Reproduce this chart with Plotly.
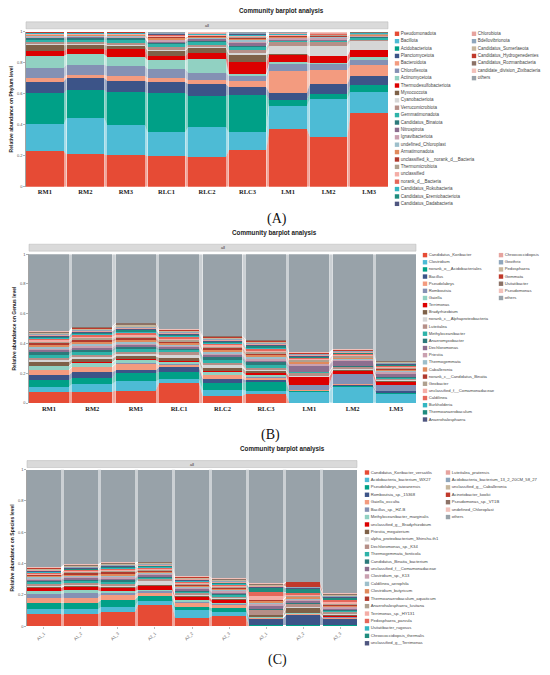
import plotly.graph_objects as go

W, H = 550, 675

# ---------------- data ----------------
A_samples = ["RM1", "RM2", "RM3", "RLC1", "RLC2", "RLC3", "LM1", "LM2", "LM3"]
B_samples = ["RM1", "RM2", "RM3", "RLC1", "RLC2", "RLC3", "LM1", "LM2", "LM3"]
C_samples = ["A1_1", "A1_2", "A1_3", "A2_1", "A2_2", "A2_3", "A3_1", "A3_2", "A3_3"]

A_taxa = ["Pseudomonadota", "Bacillota", "Acidobacteriota", "Planctomycetota", "Bacteroidota",
          "Chloroflexota", "Actinomycetota", "Thermodesulfobacteriota", "Myxococcota", "Cyanobacteriota",
          "Verrucomicrobiota", "Gemmatimonadota", "Candidatus_Binatota", "Nitrospirota", "Ignavibacteriota",
          "undefined_Chloroplast", "Armatimonadota", "unclassified_k__norank_d__Bacteria", "Thermomicrobiota",
          "unclassified", "norank_d__Bacteria", "Candidatus_Rokubacteria", "Candidatus_Eremiobacteriota",
          "Candidatus_Dadabacteria", "Chlorobiota", "Bdellovibrionota", "Candidatus_Sumerlaeota",
          "Candidatus_Hydrogenedentes", "Candidatus_Rozmanbacteria", "candidate_division_Zixibacteria", "others"]

A_vals = [
    [.229, .209, .203, .203, .192, .239, .378, .325, .481],
    [.175, .238, .197, .154, .197, .118, .150, .246, .139],
    [.201, .179, .209, .256, .203, .248, .038, .034, .042],
    [.075, .079, .075, .071, .075, .051, .047, .062, .058],
    [.026, .021, .032, .028, .023, .043, .139, .092, .075],
    [.064, .065, .064, .057, .051, .030, .049, .042, .034],
    [.075, .068, .060, .060, .088, .015, .010, .005, .019],
    [.032, .032, .047, .026, .041, .075, .050, .042, .043],
    [.038, .028, .025, .032, .032, .050, .005, .005, .005],
    [.006, .006, .006, .008, .007, .015, .050, .066, .055],
    [.012, .012, .013, .018, .014, .020, .025, .024, .010],
    [.018, .016, .018, .020, .017, .015, .006, .006, .010],
    [.008, .008, .009, .010, .009, .010, .003, .003, .004],
    [.006, .006, .006, .008, .007, .015, .006, .006, .004],
    [.005, .005, .005, .008, .006, .012, .012, .010, .003],
    [.004, .004, .004, .005, .005, .010, .004, .004, .004],
    [.004, .004, .004, .012, .006, .008, .006, .006, .005],
    [.003, .003, .003, .004, .004, .006, .003, .003, .003],
    [.003, .003, .003, .004, .004, .006, .004, .004, .002],
    [.003, .003, .003, .004, .003, .005, .004, .004, .002],
    [.002, .002, .002, .003, .003, .004, .003, .003, .002],
    [.002, .002, .002, .003, .003, .004, .002, .002, .001],
    [.002, .002, .002, .003, .002, .003, .002, .002, .001],
    [.001, .001, .001, .002, .002, .003, .001, .001, .001],
    [.001, .001, .001, .003, .002, .003, .002, .002, .001],
    [.001, .001, .001, .002, .002, .002, .002, .002, .001],
    [.001, .001, .001, .002, .001, .002, .001, .001, .001],
    [.001, .001, .001, .002, .001, .002, .001, .001, .001],
    [.001, .001, .001, .001, .001, .001, .001, .001, .001],
    [.001, .001, .001, .001, .001, .001, .001, .001, .001],
    [.002, .002, .002, .005, .004, .005, .005, .004, .003],
]

B_taxa = ["Candidatus_Koribacter", "Clostridium", "norank_o__Acidobacteriales", "Bacillus", "Pseudolabrys",
          "Romboutsia", "Gaiella", "Terrimonas", "Bradyrhizobium", "norank_c__Alphaproteobacteria",
          "Luteitalea", "Methyloceanibacter", "Anaeromyxobacter", "Dechloromonas", "Priestia",
          "Thermogemmata", "Caballeronia", "norank_c__Candidatus_Binatia", "Geobacter",
          "unclassified_f__Comamonadaceae", "Caldilinea", "Burkholderia", "Thermoanaerobaculum",
          "Anaerohalosphaera", "Chroococcidiopsis", "Geothrix", "Pedosphaera", "Gemmata",
          "Usitatibacter", "Pseudomonas", "others"]

B_vals = [
    [.076, .076, .084, .136, .049, .062, .003, .002, .002],
    [.033, .055, .063, .024, .042, .020, .073, .107, .060],
    [.044, .038, .055, .049, .047, .056, .003, .003, .004],
    [.034, .040, .018, .033, .026, .015, .004, .011, .012],
    [.033, .033, .044, .016, .023, .016, .004, .004, .004],
    [.005, .005, .005, .004, .006, .006, .033, .067, .035],
    [.022, .024, .020, .018, .018, .012, .003, .003, .004],
    [.005, .005, .006, .004, .006, .015, .050, .022, .020],
    [.025, .024, .020, .022, .020, .010, .004, .004, .004],
    [.015, .015, .015, .022, .018, .012, .004, .004, .006],
    [.015, .014, .016, .014, .018, .014, .020, .015, .010],
    [.020, .018, .018, .014, .020, .018, .004, .004, .006],
    [.016, .015, .016, .012, .018, .016, .004, .006, .006],
    [.012, .012, .012, .009, .012, .012, .040, .030, .020],
    [.012, .012, .010, .009, .012, .012, .010, .012, .010],
    [.012, .015, .010, .009, .012, .012, .004, .004, .006],
    [.015, .014, .012, .010, .013, .013, .010, .008, .008],
    [.010, .012, .012, .010, .010, .010, .002, .002, .004],
    [.010, .012, .012, .010, .010, .010, .010, .008, .006],
    [.010, .010, .012, .010, .010, .010, .010, .008, .008],
    [.008, .010, .012, .010, .010, .010, .006, .006, .006],
    [.008, .010, .010, .010, .008, .010, .004, .004, .004],
    [.008, .008, .010, .008, .008, .008, .003, .003, .004],
    [.006, .008, .008, .006, .006, .008, .004, .004, .004],
    [.004, .006, .008, .006, .006, .008, .010, .006, .006],
    [.006, .006, .008, .006, .006, .006, .004, .004, .004],
    [.006, .006, .008, .006, .006, .008, .004, .004, .004],
    [.005, .005, .006, .004, .005, .005, .003, .003, .003],
    [.006, .007, .008, .006, .006, .006, .003, .004, .004],
    [.004, .004, .006, .004, .004, .005, .004, .004, .004],
    [.520, .491, .462, .507, .553, .573, .658, .642, .700],
]

C_taxa = ["Candidatus_Koribacter_versatilis", "Acidobacteria_bacterium_WX27", "Pseudolabrys_taiwanensis",
          "Romboutsia_sp._15368", "Gaiella_occulta", "Bacillus_sp._HZ-B", "Methyloceanibacter_marginalis",
          "unclassified_g__Bradyrhizobium", "Priestia_megaterium", "alpha_proteobacterium_Shinshu-th1",
          "Dechloromonas_sp._K34", "Thermogemmata_fonticola", "Candidatus_Binatia_bacterium",
          "unclassified_f__Comamonadaceae", "Clostridium_sp._K13", "Caldilinea_aerophila",
          "Clostridium_butyricum", "Thermoanaerobaculum_aquaticum", "Anaerohalosphaera_lusitana",
          "Terrimonas_sp._HY131", "Pedosphaera_parvula", "Usitatibacter_rugosus",
          "Chroococcidiopsis_thermalis", "unclassified_g__Terrimonas", "Luteitalea_pratensis",
          "Acidobacteria_bacterium_13_2_20CM_58_27", "unclassified_g__Caballeronia", "Acinetobacter_kookii",
          "Pseudomonas_sp._VT1B", "undefined_Chloroplast", "others"]

C_vals = [
    [.078, .078, .089, .135, .055, .065, .002, .002, .002],
    [.036, .030, .035, .025, .048, .028, .003, .003, .003],
    [.036, .042, .043, .028, .017, .021, .003, .003, .004],
    [.002, .002, .002, .002, .002, .002, .040, .065, .040],
    [.031, .031, .031, .021, .026, .017, .004, .004, .004],
    [.028, .028, .010, .010, .008, .008, .004, .004, .004],
    [.015, .021, .012, .010, .010, .008, .003, .003, .004],
    [.021, .021, .021, .022, .018, .015, .003, .003, .004],
    [.005, .005, .006, .006, .006, .006, .008, .032, .008],
    [.010, .010, .010, .027, .010, .008, .004, .004, .006],
    [.010, .010, .010, .008, .008, .008, .030, .020, .015],
    [.012, .012, .014, .010, .010, .010, .003, .003, .004],
    [.008, .010, .010, .008, .008, .008, .003, .004, .004],
    [.008, .008, .010, .008, .008, .008, .020, .012, .010],
    [.008, .008, .010, .008, .008, .008, .015, .010, .008],
    [.008, .008, .010, .008, .008, .008, .004, .004, .004],
    [.006, .008, .010, .006, .006, .008, .012, .010, .008],
    [.006, .008, .010, .008, .006, .006, .004, .004, .004],
    [.005, .006, .008, .006, .006, .006, .006, .004, .006],
    [.005, .006, .008, .006, .006, .006, .020, .010, .012],
    [.006, .006, .006, .006, .006, .006, .025, .010, .010],
    [.004, .005, .006, .004, .004, .006, .004, .004, .004],
    [.004, .004, .006, .004, .004, .004, .025, .020, .010],
    [.004, .004, .004, .004, .004, .004, .008, .006, .006],
    [.006, .006, .006, .006, .006, .006, .004, .004, .004],
    [.004, .004, .004, .004, .004, .004, .003, .003, .004],
    [.006, .006, .006, .006, .006, .006, .004, .004, .006],
    [.002, .002, .002, .002, .002, .002, .002, .030, .002],
    [.004, .004, .004, .004, .004, .004, .004, .002, .004],
    [.004, .004, .004, .004, .004, .006, .004, .002, .008],
    [.629, .608, .591, .578, .673, .684, .726, .722, .783],
]

colors = ["#E64B35", "#4DBBD5", "#00A087", "#3C5488", "#F39B7F", "#8491B4", "#91D1C2", "#DC0000",
          "#7E6148", "#D6D6D6", "#B58F88", "#2EB3A9", "#2C7A7B", "#8D6E8F", "#C9A0B0", "#9DBFCB",
          "#E08A5C", "#B03A2E", "#AFA08F", "#F4ADA6", "#E5675A", "#32B6C2", "#1F8C7E", "#4F5680",
          "#E6A39E", "#8FA6BC", "#C6B69C", "#C0392B", "#8C7266", "#F2C1BA", "#98A2A9"]

# ---------------- helpers ----------------
def norm(vals):
    n = len(vals[0])
    tot = [sum(r[i] for r in vals) for i in range(n)]
    return [[r[i] / tot[i] for i in range(n)] for r in vals]


def rgba(h, a):
    h = h.lstrip("#")
    return "rgba(%d,%d,%d,%.2f)" % (int(h[0:2], 16), int(h[2:4], 16), int(h[4:6], 16), a)


def fx(px):
    return px / W


def fy(py):
    return 1 - py / H


panels = [
    dict(samples=A_samples, taxa=A_taxa, vals=A_vals, ylab="Relative abundance on Phylum level",
         x0=26, x1=388, yt=29, yb=185, st=(19, 26), ty=8, tx=281, lab="(A)", lx=277, ly=218,
         gx=397, g2=474, gy=31, gdy=7.45, gfs=4.5, w=0.93, serif=True),
    dict(samples=B_samples, taxa=B_taxa, vals=B_vals, ylab="Relative abundance on Genus level",
         x0=29, x1=416, yt=253, yb=403, st=(243, 250), ty=232, tx=274, lab="(B)", lx=270, ly=435,
         gx=425, g2=501, gy=254, gdy=7.2, gfs=4.2, w=0.92, serif=True),
    dict(samples=C_samples, taxa=C_taxa, vals=C_vals, ylab="Relative abundance on Species level",
         x0=27, x1=357, yt=470, yb=628, st=(461, 468), ty=449, tx=282, lab="(C)", lx=277, ly=662,
         gx=367, g2=448, gy=473, gdy=7.48, gfs=4.2, w=0.91, serif=False),
]

fig = go.Figure()
shapes, annotations = [], []
layout_axes = {}

for k, p in enumerate(panels):
    sfx = "" if k == 0 else str(k + 1)
    xa, ya = "x" + sfx, "y" + sfx
    n = len(p["samples"])
    xs = list(range(n))
    w = p["w"]
    nv = norm(p["vals"])
    base = [0.0] * n
    for j, row in enumerate(nv):
        top = [base[i] + row[i] for i in range(n)]
        fig.add_trace(go.Bar(x=xs, y=row, width=w, marker=dict(color=colors[j], line=dict(width=0)),
                             xaxis=xa, yaxis=ya, showlegend=False, name=p["taxa"][j]))
        bx, by = [], []
        for i in range(n - 1):
            xr, xl = i + w / 2, i + 1 - w / 2
            bx += [xr, xl, xl, xr, xr, None]
            by += [base[i], base[i + 1], top[i + 1], top[i], base[i], None]
        fig.add_trace(go.Scatter(x=bx, y=by, mode="lines", fill="toself", line=dict(width=0),
                                 fillcolor=rgba(colors[j], 0.5), hoverinfo="skip",
                                 xaxis=xa, yaxis=ya, showlegend=False))
        base = top

    # axes
    xkw = dict(domain=[fx(p["x0"]), fx(p["x1"])], range=[-w / 2, n - 1 + w / 2], anchor=ya,
               tickvals=xs, ticktext=p["samples"], showgrid=False, zeroline=False, showline=False)
    if p["serif"]:
        xkw.update(ticks="", tickfont=dict(family="Liberation Serif", size=6.5, color="#222", weight="bold"))
    else:
        xkw.update(ticks="outside", ticklen=2, tickwidth=0.5, tickcolor="#777", tickangle=-45,
                   tickfont=dict(family="Liberation Sans", size=4.2, color="#666"))
    layout_axes["xaxis" + sfx] = xkw
    layout_axes["yaxis" + sfx] = dict(
        domain=[fy(p["yb"]), fy(p["yt"])], range=[0, 1], anchor=xa,
        tickvals=[0, 0.2, 0.4, 0.6, 0.8, 1], ticktext=["0", "0.2", "0.4", "0.6", "0.8", "1"],
        tickfont=dict(family="Liberation Sans", size=4, color="#555"),
        ticks="outside", ticklen=2, tickwidth=0.5, tickcolor="#666",
        showline=True, linecolor="#666", linewidth=0.6, showgrid=False, zeroline=False,
        title=dict(text=p["ylab"], font=dict(family="Liberation Sans", size=5, color="#222", weight="bold"),
                   standoff=3))

    # legend built as a scatter on its own hidden axes
    lk = str(k + 4)
    hl = 8 + 24 * p["gdy"]
    wl = W - p["gx"] + 3
    mx, my = [], []
    for j in range(len(p["taxa"])):
        c = 0 if j < 24 else 1
        r = j if j < 24 else j - 24
        mx.append(3 + c * (p["g2"] - p["gx"]))
        my.append(4 + r * p["gdy"])
    fig.add_trace(go.Scatter(x=mx, y=my, mode="markers+text", text=p["taxa"], textposition="middle right",
                             textfont=dict(family="Liberation Sans", size=p["gfs"], color="#444"),
                             marker=dict(symbol="square", size=4.4, color=colors[:len(p["taxa"])],
                                         line=dict(width=0)),
                             cliponaxis=False, hoverinfo="skip", showlegend=False,
                             xaxis="x" + lk, yaxis="y" + lk))
    layout_axes["xaxis" + lk] = dict(domain=[fx(p["gx"] - 3), 1], range=[0, wl], visible=False,
                                     anchor="y" + lk)
    layout_axes["yaxis" + lk] = dict(domain=[fy(p["gy"] - 4 + hl), fy(p["gy"] - 4)], range=[hl, 0],
                                     visible=False, anchor="x" + lk)

    # strip "all"
    shapes.append(dict(type="rect", xref="paper", yref="paper", x0=fx(p["x0"]), x1=fx(p["x1"]),
                       y0=fy(p["st"][1]), y1=fy(p["st"][0]), fillcolor="#DADADA",
                       line=dict(color="#B5B5B5", width=0.5), layer="below"))
    annotations.append(dict(text="all", xref="paper", yref="paper", x=fx((p["x0"] + p["x1"]) / 2),
                            y=fy((p["st"][0] + p["st"][1]) / 2), showarrow=False,
                            xanchor="center", yanchor="middle",
                            font=dict(family="Liberation Sans", size=4, color="#333")))
    # title
    annotations.append(dict(text="<b>Community barplot analysis</b>", xref="paper", yref="paper",
                            x=fx(p["tx"]), y=fy(p["ty"]), showarrow=False,
                            xanchor="center", yanchor="middle",
                            font=dict(family="Liberation Sans", size=6.3, color="#222")))
    # panel label
    annotations.append(dict(text=p["lab"], xref="paper", yref="paper", x=fx(p["lx"]), y=fy(p["ly"]),
                            showarrow=False, xanchor="center", yanchor="middle",
                            font=dict(family="Liberation Serif", size=14, color="#111")))

fig.update_layout(width=W, height=H, margin=dict(l=0, r=0, t=0, b=0), paper_bgcolor="white",
                  plot_bgcolor="rgba(0,0,0,0)", barmode="stack", bargap=0, showlegend=False,
                  hovermode=False, shapes=shapes, annotations=annotations, **layout_axes)

fig.write_html("out.html", config={"displayModeBar": False, "staticPlot": True},
               post_script="document.body.style.margin='0px';")
